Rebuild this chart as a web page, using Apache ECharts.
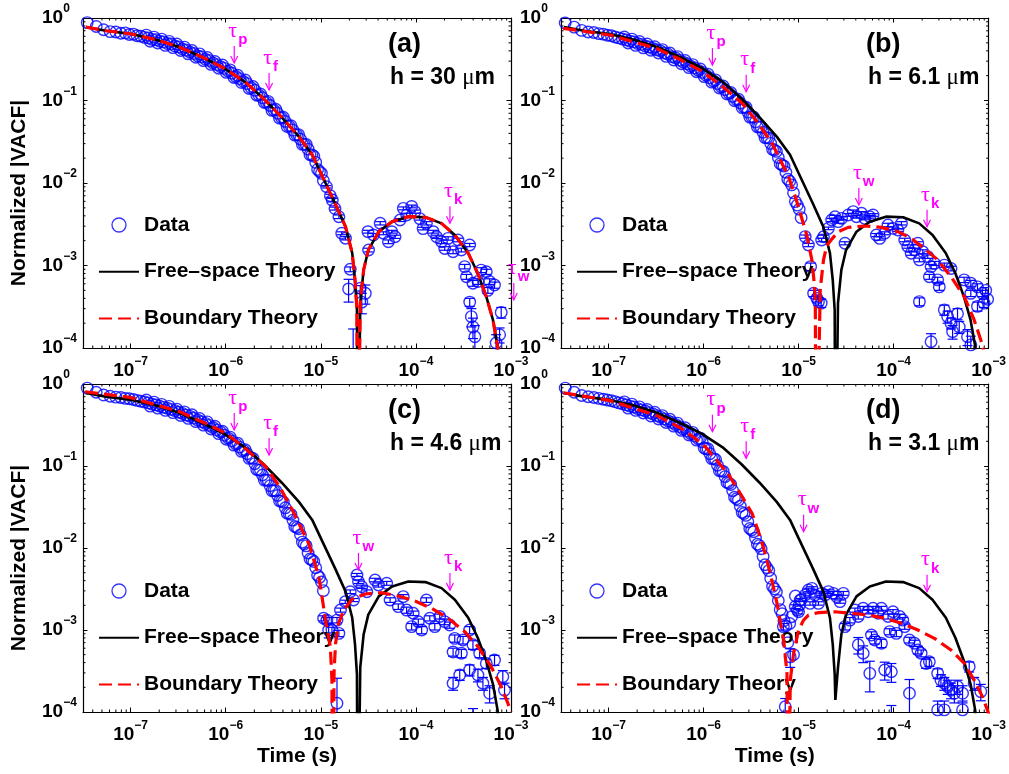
<!DOCTYPE html>
<html><head><meta charset="utf-8">
<script src="https://cdn.jsdelivr.net/npm/echarts@6/dist/echarts.min.js"></script>
<style>html,body{margin:0;padding:0;background:#fff}#c{width:1009px;height:774px}</style>
</head><body><div id="c"></div>
<script>
// ---------------- data ----------------
// shared sampling times of the dense early data (s)
const tBand = [3.5e-8,4.35e-8,5.2e-8,6.1e-8,7.0e-8,7.9e-8,8.8e-8,9.7e-8,1.07e-7,1.17e-7,1.28e-7,
 1.40e-7,1.535e-7,1.683e-7,1.846e-7,2.024e-7,2.219e-7,2.433e-7,2.668e-7,2.926e-7,3.208e-7,3.518e-7,
 3.857e-7,4.229e-7,4.638e-7,5.085e-7,5.576e-7,6.114e-7,6.704e-7,7.351e-7,8.061e-7,8.839e-7,9.692e-7,
 1.063e-6,1.165e-6,1.278e-6,1.401e-6,1.536e-6,1.684e-6,1.847e-6,2.025e-6,2.221e-6,2.435e-6,2.670e-6,
 2.928e-6,3.210e-6,3.520e-6,3.860e-6,4.233e-6,4.641e-6,5.089e-6,5.580e-6,6.119e-6,6.709e-6,7.357e-6,
 8.067e-6,8.846e-6,9.700e-6,1.064e-5];
const bandA = [0.88,0.79,0.72,0.684,0.676,0.653,0.661,0.631,0.638,0.610,0.603,0.582,0.575,0.550,0.547,
 0.525,0.513,0.490,0.484,0.457,0.447,0.422,0.407,0.385,0.372,0.347,0.339,0.316,0.305,0.285,0.272,0.257,
 0.245,0.226,0.214,0.195,0.184,0.170,0.160,0.143,0.133,0.117,0.108,0.0955,0.0871,0.0767,0.070,0.0617,
 0.0556,0.049,0.0437,0.0385,0.0339,0.0295,0.0257,0.0219,0.0178,0.0138,0.0107];
const bandB = [0.871,0.776,0.708,0.676,0.668,0.646,0.638,0.617,0.610,0.589,0.575,0.556,0.543,0.525,0.513,
 0.490,0.479,0.457,0.447,0.427,0.412,0.398,0.376,0.363,0.339,0.327,0.309,0.292,0.279,0.260,0.248,0.232,
 0.219,0.202,0.188,0.172,0.160,0.146,0.135,0.123,0.112,0.102,0.0933,0.0832,0.0724,0.0631,0.0550,0.0479,
 0.0412,0.0355,0.0302,0.0251,0.0204,0.0166,0.0135,0.0105,7.6e-3,5.4e-3,3.8e-3];
const bandC = [0.891,0.794,0.733,0.708,0.692,0.684,0.668,0.661,0.646,0.631,0.617,0.603,0.589,0.569,0.556,
 0.537,0.519,0.507,0.490,0.473,0.452,0.437,0.417,0.403,0.385,0.363,0.347,0.331,0.313,0.295,0.275,0.260,
 0.237,0.219,0.202,0.186,0.170,0.155,0.141,0.126,0.107,0.0891,0.0776,0.0676,0.0575,0.0501,0.0437,0.0372,
 0.0309,0.0263,0.0219,0.0178,0.0145,0.0112,8.7e-3,7.2e-3,5.75e-3,4.37e-3,3.02e-3];
const bandD = [0.891,0.794,0.724,0.700,0.684,0.668,0.653,0.638,0.624,0.610,0.589,0.575,0.556,0.537,0.525,
 0.501,0.484,0.468,0.447,0.432,0.412,0.394,0.376,0.355,0.339,0.320,0.302,0.282,0.266,0.248,0.232,0.214,
 0.197,0.162,0.141,0.123,0.102,0.0871,0.0741,0.0617,0.0501,0.0398,0.0324,0.0263,0.0209,0.0166,0.0132,
 0.0107,7.9e-3,5.75e-3,4.27e-3,3.16e-3,2.29e-3,1.58e-3,1.12e-3,1.2e-3,5.0e-4,1.75e-3,2.32e-3];
// second row of the dense band (interleaved sampling times, the band's upper/lower edge)
const tBand2 = [1.466e-7,1.607e-7,1.762e-7,1.932e-7,2.119e-7,2.323e-7,2.548e-7,2.793e-7,3.063e-7,3.358e-7,
 3.683e-7,4.038e-7,4.428e-7,4.855e-7,5.324e-7,5.838e-7,6.401e-7,7.019e-7,7.696e-7,8.439e-7,9.253e-7,
 1.015e-6,1.113e-6,1.220e-6,1.338e-6,1.467e-6,1.608e-6,1.763e-6,1.934e-6,2.120e-6,2.325e-6,2.549e-6,
 2.795e-6,3.065e-6,3.361e-6,3.685e-6,4.041e-6,4.431e-6,4.859e-6,5.328e-6,5.842e-6,6.406e-6,7.024e-6,
 7.702e-6,8.446e-6,9.261e-6,1.016e-5];
const band2A = [0.62,0.523,0.587,0.498,0.555,0.466,0.521,0.437,0.484,0.404,0.443,0.368,0.404,0.334,0.367,
 0.304,0.332,0.274,0.297,0.246,0.269,0.219,0.235,0.190,0.202,0.165,0.177,0.140,0.148,0.116,0.120,0.0945,
 0.0976,0.076,0.0784,0.0611,0.0627,0.0485,0.0495,0.0381,0.0386,0.0294,0.0294,0.0220,0.0211,0.0146,0.0131];
const band2B = [0.588,0.497,0.555,0.466,0.518,0.435,0.484,0.406,0.448,0.377,0.414,0.343,0.376,0.310,0.340,
 0.279,0.305,0.250,0.272,0.223,0.241,0.195,0.209,0.167,0.178,0.142,0.150,0.120,0.125,0.0995,0.104,0.0819,
 0.0830,0.0629,0.0630,0.0477,0.0475,0.0355,0.0350,0.0256,0.0242,0.0171,0.0160,0.0111,9.5e-3,5.95e-3,4.8e-3];
const band2C = [0.638,0.538,0.601,0.508,0.565,0.477,0.533,0.447,0.494,0.413,0.457,0.381,0.422,0.348,0.380,
 0.315,0.345,0.283,0.305,0.248,0.265,0.212,0.225,0.180,0.190,0.151,0.158,0.124,0.124,0.0908,0.0890,0.0673,
 0.0668,0.0499,0.0501,0.0375,0.0363,0.0265,0.0257,0.0183,0.0172,0.0118,0.0106,7.35e-3,6.85e-3,4.65e-3,3.85e-3];
const band2D = [0.605,0.508,0.568,0.477,0.526,0.443,0.489,0.408,0.452,0.375,0.412,0.339,0.371,0.306,0.333,
 0.272,0.293,0.239,0.257,0.207,0.219,0.166,0.162,0.123,0.120,0.0877,0.0859,0.0629,0.0595,0.0416,0.0384,0.0272,
 0.0250,0.0173,0.0158,0.0111,9.8e-3,6.25e-3,5.3e-3,3.4e-3,2.9e-3,1.77e-3,1.3e-3,7.0e-4,1.45e-3,2.6e-3,2.0e-3];

// later, sparser data: [time (s), value, error]
const lateA = [[1.15e-5,9.0e-3,3e-4],[1.26e-5,7.0e-3,3e-4],[1.32e-5,6.2e-3,3e-4],[1.41e-5,4.9e-3,2e-4],
 [1.55e-5,3.9e-3,2e-4],[1.66e-5,2.46e-3,1e-4],[1.82e-5,2.14e-3,1e-4],[2.04e-5,9.0e-4,6e-5],[1.96e-5,5.2e-4,1.6e-4],
 [2.19e-5,7e-5,1.0e-4],[2.60e-5,5.3e-4,4e-5],[2.70e-5,3.6e-4,1.0e-4],[2.94e-5,4.6e-4,1.2e-4],[3.13e-5,2.57e-3,1e-4],
 [3.18e-5,1.54e-3,8e-5],[3.58e-5,2.34e-3,1e-4],[4.21e-5,3.25e-3,1.5e-4],[4.56e-5,2.46e-3,1e-4],[5.14e-5,1.94e-3,1e-4],
 [5.57e-5,2.57e-3,1e-4],[6.04e-5,2.23e-3,1e-4],[6.82e-5,3.56e-3,1.5e-4],[7.38e-5,4.93e-3,2e-4],[8.00e-5,4.1e-3,2e-4],
 [9.02e-5,5.2e-3,2e-4],[9.77e-5,4.5e-3,2e-4],[1.10e-4,3.7e-3,1.5e-4],[1.19e-4,2.8e-3,1e-4],[1.29e-4,3.25e-3,1.5e-4],
 [1.52e-4,2.57e-3,1e-4],[1.65e-4,2.23e-3,1e-4],[1.86e-4,1.94e-3,1e-4],[2.01e-4,1.61e-3,8e-5],[2.18e-4,2.13e-3,1e-4],
 [2.46e-4,1.47e-3,8e-5],[2.77e-4,2.04e-3,1e-4],[3.01e-4,1.54e-3,8e-5],[3.26e-4,9.7e-4,6e-5],[3.40e-4,7.3e-4,5e-5],
 [3.68e-4,1.77e-3,8e-5],[3.68e-4,3.6e-4,4e-5],[3.83e-4,2.4e-4,6e-5],[3.98e-4,6.1e-4,5e-5],[3.98e-4,1.8e-4,5e-5],
 [4.17e-4,1.37e-4,5e-5],[4.50e-4,6.4e-4,5e-5],[4.86e-4,8.8e-4,6e-5],[5.50e-4,8.4e-4,6e-5],[5.71e-4,5.0e-4,4e-5],
 [5.96e-4,6.4e-4,5e-5],[6.71e-4,5.8e-4,5e-5],[6.98e-4,1.15e-4,3e-5],[7.59e-4,1.45e-4,3e-5],[7.89e-4,2.7e-4,4e-5]];
const lateB = [[1.175e-5,2.24e-3,1e-4],[1.27e-5,1.77e-3,8e-5],[1.34e-5,9.7e-4,1e-4],[1.44e-5,4.6e-4,4e-5],
 [1.56e-5,4.0e-4,4e-5],[1.62e-5,3.65e-4,4e-5],[1.73e-5,3.5e-4,4e-5],[1.75e-5,2.04e-3,1e-4],[1.83e-5,2.23e-3,1e-4],
 [2.06e-5,2.82e-3,1e-4],[2.23e-5,3.56e-3,1.5e-4],[2.42e-5,3.9e-3,1.5e-4],[2.62e-5,3.4e-3,1.5e-4],[2.84e-5,3.73e-3,1.5e-4],
 [3.08e-5,1.86e-3,8e-5],[3.33e-5,4.1e-3,1.5e-4],[3.76e-5,4.5e-3,2e-4],[4.07e-5,3.9e-3,1.5e-4],[4.60e-5,4.3e-3,2e-4],
 [4.99e-5,3.73e-3,1.5e-4],[5.62e-5,3.9e-3,1.5e-4],[6.08e-5,4.1e-3,1.5e-4],[6.59e-5,2.34e-3,1e-4],[7.14e-5,2.13e-3,1e-4],
 [8.05e-5,2.46e-3,1e-4],[8.73e-5,3.1e-3,1.5e-4],[9.84e-5,2.82e-3,1e-4],[1.11e-4,2.69e-3,1e-4],[1.21e-4,3.25e-3,1.5e-4],
 [1.31e-4,2.04e-3,1e-4],[1.41e-4,1.7e-3,8e-5],[1.53e-4,1.41e-3,8e-5],[1.66e-4,1.54e-3,8e-5],[1.80e-4,1.86e-3,8e-5],
 [1.87e-4,1.17e-3,6e-5],[1.87e-4,3.65e-4,4e-5],[2.03e-4,1.47e-3,8e-5],[2.29e-4,1.28e-3,6e-5],[2.38e-4,7.3e-4,5e-5],
 [2.48e-4,9.7e-4,6e-5],[2.48e-4,1.19e-4,3e-5],[2.69e-4,1.06e-3,6e-5],[2.91e-4,6.7e-4,5e-5],[3.03e-4,5.5e-4,5e-5],
 [3.42e-4,1.01e-3,6e-5],[3.42e-4,2.9e-4,4e-5],[3.71e-4,2.4e-4,4e-5],[4.02e-4,9.2e-4,6e-5],[4.02e-4,2.0e-4,3e-5],
 [4.18e-4,1.58e-4,3e-5],[4.71e-4,2.6e-4,4e-5],[4.91e-4,1.8e-4,3e-5],[5.53e-4,6.7e-4,5e-5],[6.0e-4,1.37e-4,3e-5],
 [6.50e-4,6.1e-4,5e-5],[6.50e-4,4.6e-4,4e-5],[6.50e-4,1.09e-4,3e-5],[7.64e-4,5.5e-4,5e-5],[7.64e-4,3.2e-4,4e-5],
 [8.61e-4,4.6e-4,4e-5],[8.95e-4,3.5e-4,4e-5],[9.33e-4,5.0e-4,4e-5],[9.77e-4,3.9e-4,4e-5]];
const lateC = [[1.07e-5,1.39e-3,1e-4],[1.16e-5,1.32e-3,1e-4],[1.21e-5,1.0e-3,2e-4],[1.31e-5,1.0e-3,8e-5],
 [1.48e-5,1.28e-4,1.3e-4],[1.48e-5,1.32e-3,1e-4],[1.55e-5,9.1e-4,8e-5],[1.61e-5,1.75e-3,1e-4],[1.81e-5,2.21e-3,1e-4],
 [2.04e-5,2.93e-3,1.5e-4],[2.21e-5,2.32e-3,1e-4],[2.40e-5,4.69e-3,2e-4],[2.49e-5,3.89e-3,2e-4],[2.70e-5,3.37e-3,1.5e-4],
 [3.05e-5,2.93e-3,1.5e-4],[3.72e-5,4.07e-3,2e-4],[4.04e-5,3.54e-3,2e-4],[4.93e-5,3.71e-3,2e-4],[5.35e-5,2.32e-3,1.5e-4],
 [6.53e-5,1.93e-3,1.5e-4],[7.36e-5,2.55e-3,1.5e-4],[7.98e-5,1.75e-3,1.5e-4],[9.02e-5,1.1e-3,1e-4],[9.38e-5,1.6e-3,1e-4],
 [1.06e-4,1.26e-3,1e-4],[1.15e-4,1.0e-3,1e-4],[1.29e-4,2.32e-3,1.5e-4],[1.40e-4,1.39e-3,1e-4],[1.58e-4,1.1e-3,1e-4],
 [1.78e-4,1.46e-3,1e-4],[2.01e-4,1.26e-3,1e-4],[2.27e-4,1.15e-3,1e-4],[2.46e-4,5.4e-4,6e-5],[2.46e-4,2.24e-4,4e-5],
 [2.56e-4,7.9e-4,8e-5],[2.89e-4,2.83e-4,4e-5],[3.01e-4,5.2e-4,6e-5],[3.13e-4,7.55e-4,8e-5],[3.67e-4,1.0e-3,1e-4],
 [3.67e-4,3.25e-4,5e-5],[3.98e-4,6.6e-4,8e-5],[3.98e-4,8e-5,3e-5],[4.49e-4,2.83e-4,5e-5],[4.68e-4,5.2e-4,6e-5],
 [5.07e-4,2.24e-4,4e-5],[5.50e-4,3.9e-4,5e-5],[5.96e-4,1.69e-4,4e-5],[6.71e-4,4.3e-4,6e-5],[8.20e-4,2.7e-4,5e-5],
 [8.55e-4,1.85e-4,4e-5]];
const lateD = [[6.92e-6,1.1e-3,1e-4],[7.24e-6,1.16e-4,3e-5],[8.17e-6,4.7e-4,1.2e-4],[9.23e-6,1.93e-3,1e-4],
 [1.0e-5,1.67e-3,1e-4],[1.04e-5,2.32e-3,1e-4],[1.175e-5,2.67e-3,1.5e-4],[1.27e-5,3.08e-3,1.5e-4],[1.32e-5,2.11e-3,1e-4],
 [1.38e-5,3.22e-3,1.5e-4],[1.49e-5,2.67e-3,1.5e-4],[1.62e-5,2.11e-3,1e-4],[1.75e-5,2.8e-3,1.5e-4],[1.90e-5,2.67e-3,1.5e-4],
 [2.06e-5,2.94e-3,1.5e-4],[2.32e-5,2.8e-3,1.5e-4],[2.52e-5,2.55e-3,1.5e-4],[2.73e-5,2.22e-3,1e-4],[2.96e-5,2.8e-3,1.5e-4],
 [3.08e-5,1.1e-3,1e-4],[3.47e-5,1.32e-3,1e-4],[3.92e-5,1.75e-3,1e-4],[4.25e-5,1.46e-3,1e-4],[4.25e-5,6.6e-4,1.5e-4],
 [4.79e-5,1.84e-3,1e-4],[4.79e-5,5.2e-4,1.2e-4],[5.40e-5,1.67e-3,1e-4],[5.62e-5,2.96e-4,1.2e-4],[5.85e-5,8.7e-4,8e-5],
 [6.08e-5,1.84e-3,1e-4],[6.34e-5,7.55e-4,8e-5],[6.87e-5,1.6e-3,1e-4],[7.45e-5,1.84e-3,1e-4],[7.45e-5,6.9e-4,8e-5],
 [8.07e-5,3.25e-4,8e-5],[8.75e-5,1.46e-3,1e-4],[9.10e-5,9.55e-4,8e-5],[9.48e-5,3.1e-4,8e-5],[9.48e-5,7e-5,5e-5],
 [9.86e-5,1.67e-3,1e-4],[1.07e-4,9.1e-4,8e-5],[1.16e-4,1.46e-3,1e-4],[1.25e-4,1.32e-3,1e-4],[1.31e-4,1.1e-3,8e-5],
 [1.47e-4,7.55e-4,6e-5],[1.47e-4,1.69e-4,8e-5],[1.66e-4,6.9e-4,6e-5],[1.80e-4,5.7e-4,6e-5],[1.95e-4,5.2e-4,5e-5],
 [2.20e-4,3.9e-4,5e-5],[2.38e-4,4.1e-4,5e-5],[2.91e-4,2.96e-4,4e-5],[2.91e-4,1.06e-4,3e-5],[3.15e-4,2.45e-4,4e-5],
 [3.42e-4,2.24e-4,4e-5],[3.42e-4,1.06e-4,3e-5],[3.71e-4,2.04e-4,4e-5],[4.02e-4,1.85e-4,4e-5],[4.36e-4,1.69e-4,4e-5],
 [4.72e-4,2.04e-4,4e-5],[5.32e-4,1.69e-4,4e-5],[5.32e-4,1.06e-4,3e-5],[6.25e-4,3.57e-4,5e-5],[7.05e-4,2.24e-4,4e-5],
 [8.28e-4,1.77e-4,4e-5]];

// free-space theory (same curve in every panel; panel (d) sampled with a shallower dip)
const freeT = [3.39e-8,5.50e-8,1.02e-7,1.86e-7,3.24e-7,5.62e-7,9.55e-7,1.62e-6,2.51e-6,3.89e-6,5.89e-6,8.13e-6,
 1.0e-5,1.41e-5,1.82e-5,2.14e-5,2.29e-5,2.40e-5,2.44e-5,2.60e-5,2.82e-5,3.16e-5,4.07e-5,5.62e-5,8.32e-5,1.26e-4,
 1.86e-4,2.57e-4,3.55e-4,4.47e-4,5.50e-4,6.46e-4,7.24e-4,7.59e-4];
const freeV = [0.776,0.701,0.640,0.546,0.445,0.337,0.248,0.166,0.105,0.0625,0.0365,0.0220,0.0132,5.68e-3,2.96e-3,
 1.41e-3,6.67e-4,2.88e-4,1e-6,3.51e-4,8.81e-4,1.54e-3,2.57e-3,3.40e-3,3.91e-3,3.84e-3,3.24e-3,2.34e-3,1.41e-3,
 8.04e-4,4.19e-4,2.19e-4,1.04e-4,5e-5];
const freeVd = [0.776,0.701,0.640,0.546,0.445,0.337,0.248,0.166,0.105,0.0625,0.0365,0.0220,0.0132,5.68e-3,2.96e-3,
 1.41e-3,6.67e-4,2.88e-4,1.4e-4,3.51e-4,8.81e-4,1.54e-3,2.57e-3,3.40e-3,3.91e-3,3.84e-3,3.24e-3,2.34e-3,1.41e-3,
 8.04e-4,4.19e-4,2.19e-4,1.04e-4,5e-5];
// boundary theory, [time, value]; in panel (a) it coincides with the free-space curve
const boundB = [[3.34e-8,0.750],[1.03e-7,0.622],[3.17e-7,0.429],[5.62e-7,0.316],[9.75e-7,0.223],[1.58e-6,0.148],
 [2.55e-6,0.0925],[3.72e-6,0.0537],[5.26e-6,0.0303],[6.18e-6,0.0208],[7.85e-6,0.0119],[9.55e-6,6.03e-3],[1.22e-5,2.34e-3],
 [1.38e-5,1.17e-3],[1.44e-5,7.31e-4],[1.50e-5,3.98e-4],[1.53e-5,1e-6],[1.69e-5,5.05e-4],[1.83e-5,1.17e-3],[1.98e-5,1.74e-3],
 [2.24e-5,2.09e-3],[2.62e-5,2.57e-3],[3.33e-5,2.90e-3],[4.99e-5,3.01e-3],[7.43e-5,2.90e-3],[1.11e-4,2.57e-3],[1.53e-4,2.14e-3],
 [2.11e-4,1.61e-3],[2.91e-4,1.17e-3],[4.02e-4,7.31e-4],[5.55e-4,4.19e-4],[7.05e-4,2.19e-4],[8.61e-4,1.09e-4],[9.33e-4,6.3e-5]];
const boundC = [[3.32e-8,0.805],[9.82e-8,0.687],[3.27e-7,0.460],[5.62e-7,0.347],[1.01e-6,0.250],[1.58e-6,0.166],
 [2.64e-6,0.0982],[3.72e-6,0.0550],[5.13e-6,0.0277],[7.50e-6,0.0112],[9.53e-6,4.47e-3],[1.03e-5,2.55e-3],[1.12e-5,1.32e-3],
 [1.26e-5,6.25e-4],[1.31e-5,2.45e-4],[1.33e-5,1e-6],[1.38e-5,3.16e-4],[1.43e-5,6.87e-4],[1.54e-5,1.21e-3],[1.74e-5,1.75e-3],
 [2.13e-5,2.37e-3],[2.93e-5,2.75e-3],[4.38e-5,2.85e-3],[6.55e-5,2.60e-3],[9.77e-5,2.26e-3],[1.46e-4,1.84e-3],[2.18e-4,1.39e-3],
 [3.26e-4,9.55e-4],[4.50e-4,6.25e-4],[6.19e-4,3.57e-4],[7.89e-4,2.04e-4],[9.27e-4,1.28e-4],[1.0e-3,1.0e-4]];
const boundD = [[3.34e-8,0.783],[1.01e-7,0.631],[3.24e-7,0.411],[5.62e-7,0.295],[7.85e-7,0.224],[1.05e-6,0.170],
 [1.38e-6,0.117],[1.82e-6,0.0794],[2.42e-6,0.0468],[3.24e-6,0.0265],[3.91e-6,0.0141],[4.49e-6,8.3e-3],[5.13e-6,4.47e-3],
 [5.93e-6,2.11e-3],[6.97e-6,7.55e-4],[7.55e-6,2.96e-4],[7.74e-6,1e-6],[8.18e-6,2.45e-4],[8.87e-6,5.19e-4],[1.0e-5,1.0e-3],
 [1.13e-5,1.32e-3],[1.27e-5,1.52e-3],[1.62e-5,1.63e-3],[2.42e-5,1.67e-3],[3.61e-5,1.60e-3],[5.40e-5,1.52e-3],[8.07e-5,1.39e-3],
 [1.21e-4,1.21e-3],[1.80e-4,1.0e-3],[2.69e-4,7.91e-4],[4.02e-4,5.70e-4],[5.55e-4,3.92e-4],[7.05e-4,2.45e-4],[8.61e-4,1.54e-4],
 [9.70e-4,1.06e-4],[1.02e-3,8.9e-5]];

// characteristic-time markers: [time at arrow tip, value at arrow tip, subscript]
const tauA = [[1.23e-6,0.285,'p'],[2.86e-6,0.134,'f'],[2.28e-4,3.25e-3,'k'],[1.07e-3,3.82e-4,'w']];
const tauB = [[1.24e-6,0.269,'p'],[2.81e-6,0.128,'f'],[4.31e-5,5.41e-3,'w'],[2.25e-4,2.95e-3,'k']];
const tauC = [[1.23e-6,0.275,'p'],[2.86e-6,0.136,'f'],[2.49e-5,5.39e-3,'w'],[2.28e-4,3.07e-3,'k']];
const tauD = [[1.24e-6,0.262,'p'],[2.81e-6,0.124,'f'],[1.13e-5,0.0158,'w'],[2.25e-4,2.93e-3,'k']];

const panelTags = ['(a)','(b)','(c)','(d)'];
const heights = ['30','6.1','4.6','3.1'];
const xRange = [3.16e-8, 1e-3];
const yRange = [1e-4, 1];
const xDecades = [-8,-7,-6,-5,-4];
const yDecades = [-4,-3,-2,-1];
const minorMult = [2,3,4,5,6,7,8,9];
const seriesNames = ['Data','Free\u2013space Theory','Boundary Theory'];

// ---------------- build ----------------
const FONT = '"Liberation Sans", Arial, Helvetica, sans-serif';
const BLUE = '#0000ff', RED = '#ff0000', MAG = '#ff00ff';
const grids = [
  {left: 83, top: 18, width: 428, height: 330},
  {left: 561, top: 18, width: 430, height: 330},
  {left: 83, top: 384, width: 428, height: 328},
  {left: 561, top: 384, width: 430, height: 328}
];
const pairs = (ts, vs) => ts.map((t, i) => [t, vs[i]]);
const panels = [
  {band: bandA, band2: band2A, late: lateA, free: pairs(freeT, freeV), bound: pairs(freeT, freeV), tau: tauA},
  {band: bandB, band2: band2B, late: lateB, free: pairs(freeT, freeV), bound: boundB, tau: tauB},
  {band: bandC, band2: band2C, late: lateC, free: pairs(freeT, freeV), bound: boundC, tau: tauC},
  {band: bandD, band2: band2D, late: lateD, free: pairs(freeT, freeVd), bound: boundD, tau: tauD}
];
const minorXVals = [], minorYVals = [];
xDecades.forEach(d => minorMult.forEach(m => { const v = m * Math.pow(10, d); if (v > xRange[0] && v < xRange[1]) minorXVals.push(v); }));
yDecades.forEach(d => minorMult.forEach(m => { minorYVals.push(m * Math.pow(10, d)); }));

function powLabel(v) {
  const e = Math.log10(v), r = Math.round(e);
  if (Math.abs(e - r) > 1e-6) return '';
  return '{b|10}{s|' + (r < 0 ? '\u2212' + (-r) : String(r)) + '}';
}
const RICH = {
  b: {fontSize: 19, fontWeight: 'bold', fontFamily: FONT, color: '#000'},
  s: {fontSize: 12, fontWeight: 'bold', fontFamily: FONT, color: '#000', padding: [0, 0, 18, 0]}
};
const tickCfg = {show: true, inside: true, length: 4.5, lineStyle: {color: '#000', width: 1}};
const lineCfg = {show: true, lineStyle: {color: '#000', width: 1.2}};
const nameStyle = {fontSize: 21, fontWeight: 'bold', fontFamily: FONT, color: '#000'};
const MINOR_LEN = 2.5;

const xAxes = [], yAxes = [], series = [], legends = [], graphics = [];
grids.forEach((g, i) => {
  const p = panels[i];
  xAxes.push({type: 'log', logBase: 10, gridIndex: i, min: xRange[0], max: xRange[1], position: 'bottom',
    axisLine: lineCfg, axisTick: tickCfg, minorTick: {show: false}, splitLine: {show: false},
    axisLabel: {show: true, margin: 8, formatter: powLabel, rich: RICH, hideOverlap: false},
    name: i >= 2 ? 'Time (s)' : '', nameLocation: 'middle', nameGap: 29, nameTextStyle: nameStyle});
  xAxes.push({type: 'log', logBase: 10, gridIndex: i, min: xRange[0], max: xRange[1], position: 'top',
    axisLine: lineCfg, axisTick: tickCfg, minorTick: {show: false}, splitLine: {show: false}, axisLabel: {show: false}});
  yAxes.push({type: 'log', logBase: 10, gridIndex: i, min: yRange[0], max: yRange[1], position: 'left',
    axisLine: lineCfg, axisTick: tickCfg, minorTick: {show: false}, splitLine: {show: false},
    axisLabel: {show: true, margin: 41, align: 'left', formatter: powLabel, rich: RICH, hideOverlap: false},
    name: (i % 2 === 0) ? 'Normalized |VACF|' : '', nameLocation: 'middle', nameGap: 53,
    nameTextStyle: Object.assign({padding: [0, 20, 0, 0]}, nameStyle)});
  yAxes.push({type: 'log', logBase: 10, gridIndex: i, min: yRange[0], max: yRange[1], position: 'right',
    axisLine: lineCfg, axisTick: tickCfg, minorTick: {show: false}, splitLine: {show: false}, axisLabel: {show: false}});
  const xi = 2 * i, yi = 2 * i;
  const tickSt = {stroke: '#000', lineWidth: 1, fill: null};
  // minor ticks (log spaced), all four sides
  series.push({type: 'custom', xAxisIndex: xi, yAxisIndex: yi, silent: true, clip: false, z: 1,
    data: minorXVals.map(v => [v, yRange[0]]), encode: {x: 0, y: 1},
    renderItem: function (params, api) {
      const b = api.coord([api.value(0), yRange[0]]), t = api.coord([api.value(0), yRange[1]]);
      return {type: 'group', children: [
        {type: 'line', shape: {x1: b[0], y1: b[1], x2: b[0], y2: b[1] - MINOR_LEN}, style: tickSt},
        {type: 'line', shape: {x1: t[0], y1: t[1], x2: t[0], y2: t[1] + MINOR_LEN}, style: tickSt}]};
    }});
  series.push({type: 'custom', xAxisIndex: xi, yAxisIndex: yi, silent: true, clip: false, z: 1,
    data: minorYVals.map(v => [xRange[0], v]), encode: {x: 0, y: 1},
    renderItem: function (params, api) {
      const l = api.coord([xRange[0], api.value(1)]), r = api.coord([xRange[1], api.value(1)]);
      return {type: 'group', children: [
        {type: 'line', shape: {x1: l[0], y1: l[1], x2: l[0] + MINOR_LEN, y2: l[1]}, style: tickSt},
        {type: 'line', shape: {x1: r[0], y1: r[1], x2: r[0] - MINOR_LEN, y2: r[1]}, style: tickSt}]};
    }});
  const dataPts = tBand.map((t, k) => [t, p.band[k]])
    .concat(tBand2.map((t, k) => [t, p.band2[k]]))
    .concat(p.late.map(d => [d[0], d[1]]));
  series.push({type: 'scatter', name: seriesNames[0], xAxisIndex: xi, yAxisIndex: yi, data: dataPts,
    symbol: 'circle', symbolSize: 11.5, clip: true, silent: true, z: 2, large: false,
    itemStyle: {color: 'transparent', borderColor: BLUE, borderWidth: 1.4}});
  series.push({type: 'custom', xAxisIndex: xi, yAxisIndex: yi, data: p.late, clip: true, silent: true, z: 2,
    encode: {x: 0, y: 1},
    renderItem: function (params, api) {
      const t = api.value(0), v = api.value(1), e = api.value(2);
      const hi = api.coord([t, v + e]);
      const lowOk = v - e > 0;
      const lo = lowOk ? api.coord([t, v - e]) : api.coord([t, 1e-9]);
      const st = {stroke: BLUE, lineWidth: 1.2, fill: null};
      const w = 5;
      const ch = [
        {type: 'line', shape: {x1: hi[0], y1: hi[1], x2: lo[0], y2: lo[1]}, style: st},
        {type: 'line', shape: {x1: hi[0] - w, y1: hi[1], x2: hi[0] + w, y2: hi[1]}, style: st}
      ];
      if (lowOk) ch.push({type: 'line', shape: {x1: lo[0] - w, y1: lo[1], x2: lo[0] + w, y2: lo[1]}, style: st});
      return {type: 'group', children: ch};
    }});
  series.push({type: 'line', name: seriesNames[1], xAxisIndex: xi, yAxisIndex: yi, data: p.free,
    symbol: 'none', showSymbol: false, clip: true, silent: true, z: 3,
    lineStyle: {color: '#000', width: 2.6}, itemStyle: {color: '#000'}});
  series.push({type: 'line', name: seriesNames[2], xAxisIndex: xi, yAxisIndex: yi, data: p.bound,
    symbol: 'none', showSymbol: false, clip: true, silent: true, z: 4,
    lineStyle: {color: RED, width: 3.2, type: [13, 6]}, itemStyle: {color: RED}});
  const tau = p.tau;
  series.push({type: 'custom', xAxisIndex: xi, yAxisIndex: yi, data: tau.map(d => [d[0], d[1]]),
    clip: false, silent: true, z: 6, encode: {x: 0, y: 1},
    renderItem: function (params, api) {
      const c = api.coord([api.value(0), api.value(1)]);
      const sub = tau[params.dataIndex][2];
      const st = {stroke: MAG, lineWidth: 1.2, fill: null};
      return {type: 'group', children: [
        {type: 'line', shape: {x1: c[0], y1: c[1] - 17, x2: c[0], y2: c[1]}, style: st},
        {type: 'polyline', shape: {points: [[c[0] - 3.5, c[1] - 7], [c[0], c[1]], [c[0] + 3.5, c[1] - 7]]}, style: st},
        {type: 'text', x: c[0] - 1.5, y: c[1] - 32, style: {text: '\u03c4', font: '22px "Liberation Serif"', fill: MAG, align: 'center', verticalAlign: 'middle'}},
        {type: 'text', x: c[0] + 4, y: c[1] - 23, style: {text: sub, font: 'bold 15px ' + FONT, fill: MAG, align: 'left', verticalAlign: 'middle'}}
      ]};
    }});
  const noSym = {color: 'rgba(0,0,0,0)', borderColor: 'rgba(0,0,0,0)', borderWidth: 0, opacity: 0};
  legends.push({left: g.left + 15, top: g.top + 196, orient: 'vertical', padding: 0, itemWidth: 40, itemHeight: 14,
    itemGap: 24.7, selectedMode: false,
    textStyle: {fontSize: 21, fontWeight: 'bold', fontFamily: FONT, color: '#000', lineHeight: 22},
    data: [{name: seriesNames[0], icon: 'circle', itemStyle: {color: 'transparent', borderColor: BLUE, borderWidth: 1.3}},
           {name: seriesNames[1], itemStyle: noSym}, {name: seriesNames[2], itemStyle: noSym}]});
  graphics.push({type: 'text', left: g.left + 305, top: g.top + 13,
    style: {text: panelTags[i], font: 'bold 27px ' + FONT, fill: '#000'}});
  graphics.push({type: 'text', left: g.left + 307, top: g.top + 48,
    style: {text: 'h = ' + heights[i] + ' {m|\u03bc}m', font: 'bold 23px ' + FONT, fill: '#000',
      rich: {m: {font: '23px "Liberation Serif"', fill: '#000'}}}});
});

const chart = echarts.init(document.getElementById('c'), null, {renderer: 'canvas'});
chart.setOption({
  animation: false,
  backgroundColor: '#fff',
  grid: grids.map(g => Object.assign({containLabel: false}, g)),
  xAxis: xAxes, yAxis: yAxes, series: series, legend: legends, graphic: graphics
});
</script></body></html>
